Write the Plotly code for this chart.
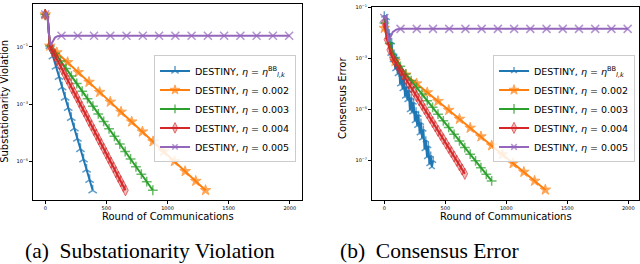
import plotly.graph_objects as go

# ---------------- data: (a) Substationarity Violation ----------------
sv_bb_x = [0, 10, 20, 38, 63, 88, 113, 138, 163, 188, 213, 238, 263, 288, 313, 338, 363, 388]
sv_bb_y = [1.32, 1.41, 1.12, 0.107, 4.68e-2, 2.04e-2, 8.91e-3, 3.89e-3, 1.70e-3, 7.41e-4, 3.31e-4,
           1.45e-4, 6.31e-5, 2.75e-5, 1.20e-5, 5.25e-6, 2.29e-6, 1.0e-6]

sv_002_x = [0, 10, 20, 38, 95, 183, 270, 358, 445, 532, 620, 707, 795, 882, 969, 1057, 1144, 1231, 1311]
sv_002_y = [1.32, 1.41, 1.12, 0.107, 6.31e-2, 2.88e-2, 1.29e-2, 5.89e-3, 2.63e-3, 1.20e-3, 5.37e-4,
            2.45e-4, 1.10e-4, 5.01e-5, 2.24e-5, 1.02e-5, 4.57e-6, 2.09e-6, 1.0e-6]

sv_003_x = [0, 10, 20, 38, 82, 126, 170, 214, 258, 302, 346, 390, 434, 478, 522, 566, 610, 654, 698,
            742, 786, 830, 880]
sv_003_y = [1.32, 1.41, 1.12, 0.107, 5.89e-2, 3.16e-2, 1.74e-2, 9.55e-3, 5.25e-3, 2.82e-3, 1.55e-3,
            8.51e-4, 4.57e-4, 2.51e-4, 1.38e-4, 7.59e-5, 4.07e-5, 2.24e-5, 1.23e-5, 6.61e-6, 3.63e-6,
            2.00e-6, 1.0e-6]

sv_004_x = [0, 10, 20, 38, 58, 78, 98, 118, 138, 158, 178, 198, 218, 238, 258, 278, 298, 318, 338, 358,
            378, 398, 418, 438, 458, 478, 498, 518, 538, 558, 578, 598, 618, 638, 656]
sv_004_y = [1.32, 1.41, 1.12, 0.107, 7.41e-2, 5.01e-2, 3.47e-2, 2.40e-2, 1.66e-2, 1.12e-2, 7.76e-3,
            5.37e-3, 3.63e-3, 2.51e-3, 1.74e-3, 1.20e-3, 8.13e-4, 5.62e-4, 3.89e-4, 2.63e-4, 1.82e-4,
            1.26e-4, 8.71e-5, 5.89e-5, 4.07e-5, 2.82e-5, 1.95e-5, 1.32e-5, 9.12e-6, 6.31e-6, 4.27e-6,
            2.95e-6, 2.04e-6, 1.41e-6, 1.0e-6]

sv_005_x = [0, 10, 20, 30, 45, 60, 80, 100, 133, 266, 399, 532, 665, 798, 931, 1064, 1197, 1330, 1463,
            1596, 1729, 1862, 1995, 2000]
sv_005_y = [1.32, 1.41, 1.0, 0.28, 0.112, 0.141, 0.209, 0.234, 0.24, 0.24, 0.24, 0.24, 0.24, 0.24, 0.24,
            0.24, 0.24, 0.24, 0.24, 0.24, 0.24, 0.24, 0.24, 0.24]

# ---------------- data: (b) Consensus Error ----------------
ce_bb_x = [0, 10, 20, 30, 40, 50, 60, 70, 80, 90, 100, 110, 120, 130, 140, 150, 160, 170, 180, 190, 200,
           210, 220, 230, 240, 250, 260, 270, 280, 290, 300, 310, 320, 330, 340, 350, 360, 370, 380, 390, 400]
ce_bb_y = [5.01e-2, 1.58e-2, 3.98e-2, 7.08e-3, 1.00e-2, 1.58e-3, 4.47e-3, 8.91e-4, 1.58e-3, 3.98e-4,
           1.12e-3, 2.51e-4, 5.01e-4, 1.00e-4, 2.40e-4, 6.46e-5, 1.74e-4, 3.31e-5, 7.94e-5, 2.40e-5,
           5.75e-5, 9.77e-6, 2.95e-5, 7.94e-6, 1.91e-5, 3.63e-6, 8.71e-6, 2.34e-6, 6.31e-6, 1.20e-6,
           3.09e-6, 7.59e-7, 1.66e-6, 2.88e-7, 6.31e-7, 1.38e-7, 3.80e-7, 7.41e-8, 1.58e-7, 5.62e-8, 1.00e-7]

ce_002_x = [0, 40, 88, 176, 264, 352, 440, 528, 616, 704, 792, 880, 968, 1056, 1144, 1232, 1320]
ce_002_y = [1.58e-2, 3.55e-3, 7.94e-4, 2.34e-4, 1.05e-4, 4.68e-5, 2.14e-5, 9.55e-6, 4.27e-6, 1.91e-6,
            8.71e-7, 3.89e-7, 1.74e-7, 7.76e-8, 3.55e-8, 1.58e-8, 7.08e-9]

ce_003_x = [0, 44, 88, 132, 176, 220, 264, 308, 352, 396, 440, 484, 528, 572, 616, 660, 704, 748, 792,
            836, 880]
ce_003_y = [2.51e-2, 3.98e-3, 1.12e-3, 5.01e-4, 2.51e-4, 1.38e-4, 7.41e-5, 4.07e-5, 2.24e-5, 1.23e-5,
            6.61e-6, 3.63e-6, 2.00e-6, 1.07e-6, 5.89e-7, 3.24e-7, 1.78e-7, 9.77e-8, 5.25e-8, 2.88e-8, 1.58e-8]

ce_004_x = [0, 22, 44, 66, 88, 110, 132, 154, 176, 198, 220, 242, 264, 286, 308, 330, 352, 374, 396, 418,
            440, 462, 484, 506, 528, 550, 572, 594, 616, 638, 660]
ce_004_y = [2.51e-2, 5.62e-3, 2.24e-3, 1.12e-3, 7.59e-4, 5.13e-4, 3.47e-4, 2.34e-4, 1.58e-4, 1.07e-4,
            7.24e-5, 5.01e-5, 3.39e-5, 2.29e-5, 1.55e-5, 1.05e-5, 7.08e-6, 4.79e-6, 3.24e-6, 2.19e-6,
            1.48e-6, 1.02e-6, 6.92e-7, 4.68e-7, 3.16e-7, 2.14e-7, 1.45e-7, 9.77e-8, 6.61e-8, 4.47e-8, 3.02e-8]

ce_005_x = [0, 10, 20, 33, 50, 70, 100, 133, 266, 399, 532, 665, 798, 931, 1064, 1197, 1330, 1463, 1596,
            1729, 1862, 1995, 2000]
ce_005_y = [3.98e-2, 5.01e-2, 2.51e-2, 4.68e-3, 7.08e-3, 1.12e-2, 1.41e-2, 1.48e-2, 1.48e-2, 1.48e-2,
            1.48e-2, 1.48e-2, 1.48e-2, 1.48e-2, 1.48e-2, 1.48e-2, 1.48e-2, 1.48e-2, 1.48e-2, 1.48e-2,
            1.48e-2, 1.48e-2, 1.48e-2]

labels = ["DESTINY, <i>η</i> = <i>η</i><sup>BB</sup><sub><i>l,k</i></sub>",
          "DESTINY, <i>η</i> = 0.002",
          "DESTINY, <i>η</i> = 0.003",
          "DESTINY, <i>η</i> = 0.004",
          "DESTINY, <i>η</i> = 0.005"]

x_tick_vals = [0, 500, 1000, 1500, 2000]
y_tick_vals_a = [1e-1, 1e-3, 1e-5]
y_tick_text_a = ["10<sup>−1</sup>", "10<sup>−3</sup>", "10<sup>−5</sup>"]
y_tick_vals_b = [1e-1, 1e-3, 1e-5, 1e-7]
y_tick_text_b = ["10<sup>−1</sup>", "10<sup>−3</sup>", "10<sup>−5</sup>", "10<sup>−7</sup>"]

# ---------------- styles ----------------
colors = ["#1f77b4", "#ff7f0e", "#2ca02c", "#d62728", "#9467bd"]
symbols = ["y-up", "star", "cross-thin", "diamond-tall", "x-thin"]
msizes = [7, 8, 7, 8, 8]
fills = ["#1f77b4", "#ff7f0e", "#2ca02c", "rgba(214,39,40,0.45)", "#9467bd"]


def sizes_for(xs, size, first=None, every=None):
    out = []
    for x in xs:
        ok = True
        if first is not None:
            ok = (x == 0) or (x >= first)
        if every is not None:
            ok = ok and (x % every == 0)
        out.append(size if ok else 0)
    return out


fig = go.Figure()

panel_a = [(sv_bb_x, sv_bb_y, dict(first=38)), (sv_002_x, sv_002_y, dict(first=38)),
           (sv_003_x, sv_003_y, dict(first=38)), (sv_004_x, sv_004_y, dict(first=38)),
           (sv_005_x, sv_005_y, dict(every=133))]
panel_b = [(ce_bb_x, ce_bb_y, dict()), (ce_002_x, ce_002_y, dict(every=88)),
           (ce_003_x, ce_003_y, dict()), (ce_004_x, ce_004_y, dict()),
           (ce_005_x, ce_005_y, dict(every=133))]

for p, (panel, xa, ya, leg) in enumerate([(panel_a, "x", "y", "legend"), (panel_b, "x2", "y2", "legend2")]):
    for i, (xs, ys, rule) in enumerate(panel):
        ms = msizes[i] if not (p == 1 and i == 0) else 5
        fig.add_trace(go.Scatter(
            x=xs, y=ys, xaxis=xa, yaxis=ya, legend=leg, name=labels[i],
            mode="lines+markers",
            line=dict(color=colors[i], width=2),
            marker=dict(symbol=symbols[i], size=sizes_for(xs, ms, **rule), color=fills[i],
                        line=dict(color=colors[i], width=1.5 if i in (0, 2, 4) else 1)),
        ))

axis_common = dict(showline=True, mirror=True, linecolor="#000000", linewidth=1, ticks="outside",
                   ticklen=3, tickwidth=0.8, tickcolor="#000000", showgrid=False, zeroline=False,
                   tickfont=dict(family="DejaVu Sans", size=5, color="#000000"))

legend_common = dict(xanchor="right", yanchor="top", bgcolor="rgba(255,255,255,0.85)",
                     bordercolor="#cccccc", borderwidth=1,
                     font=dict(family="DejaVu Sans", size=9.5, color="#000000"),
                     itemwidth=30, tracegroupgap=0)

fig.update_layout(
    width=640, height=264, margin=dict(l=0, r=0, t=0, b=0),
    paper_bgcolor="white", plot_bgcolor="white", showlegend=True,
    xaxis=dict(domain=[33 / 640, 302 / 640], range=[-100, 2100], tickvals=x_tick_vals, anchor="y",
               **axis_common),
    yaxis=dict(domain=[1 - 199 / 264, 1 - 1 / 264], type="log", range=[-6.33, 0.49],
               tickvals=y_tick_vals_a, ticktext=y_tick_text_a, anchor="x", **axis_common),
    xaxis2=dict(domain=[372 / 640, 639 / 640], range=[-101, 2088], tickvals=x_tick_vals, anchor="y2",
                **axis_common),
    yaxis2=dict(domain=[1 - 199.3 / 264, 1 - 4 / 264], type="log", range=[-8.55, -0.97],
                tickvals=y_tick_vals_b, ticktext=y_tick_text_b, anchor="x2", **axis_common),
    legend=dict(x=296 / 640, y=1 - 53 / 264, **legend_common),
    legend2=dict(x=635 / 640, y=1 - 53 / 264, **legend_common),
)

ann_font = dict(family="DejaVu Sans", size=10, color="#000000")
cap_font = dict(family="Liberation Serif", size=21.5, color="#000000")
fig.add_annotation(text="Round of Communications", x=167.5 / 640, y=1 - 216 / 264, xref="paper", yref="paper",
                   showarrow=False, font=ann_font, xanchor="center", yanchor="middle")
fig.add_annotation(text="Round of Communications", x=505.5 / 640, y=1 - 216 / 264, xref="paper", yref="paper",
                   showarrow=False, font=ann_font, xanchor="center", yanchor="middle")
fig.add_annotation(text="Substationarity Violation", x=5 / 640, y=1 - 100 / 264, xref="paper", yref="paper",
                   showarrow=False, font=ann_font, textangle=-90, xanchor="center", yanchor="middle")
fig.add_annotation(text="Consensus Error", x=343 / 640, y=1 - 96 / 264, xref="paper", yref="paper",
                   showarrow=False, font=ann_font, textangle=-90, xanchor="center", yanchor="middle")
fig.add_annotation(text="(a)  Substationarity Violation", x=150 / 640, y=1 - 251 / 264, xref="paper",
                   yref="paper", showarrow=False, font=cap_font, xanchor="center", yanchor="middle")
fig.add_annotation(text="(b)  Consensus Error", x=429 / 640, y=1 - 251 / 264, xref="paper",
                   yref="paper", showarrow=False, font=cap_font, xanchor="center", yanchor="middle")

fig.write_html("out.html", config={"displayModeBar": False},
               post_script="document.body.style.margin='0px';")
